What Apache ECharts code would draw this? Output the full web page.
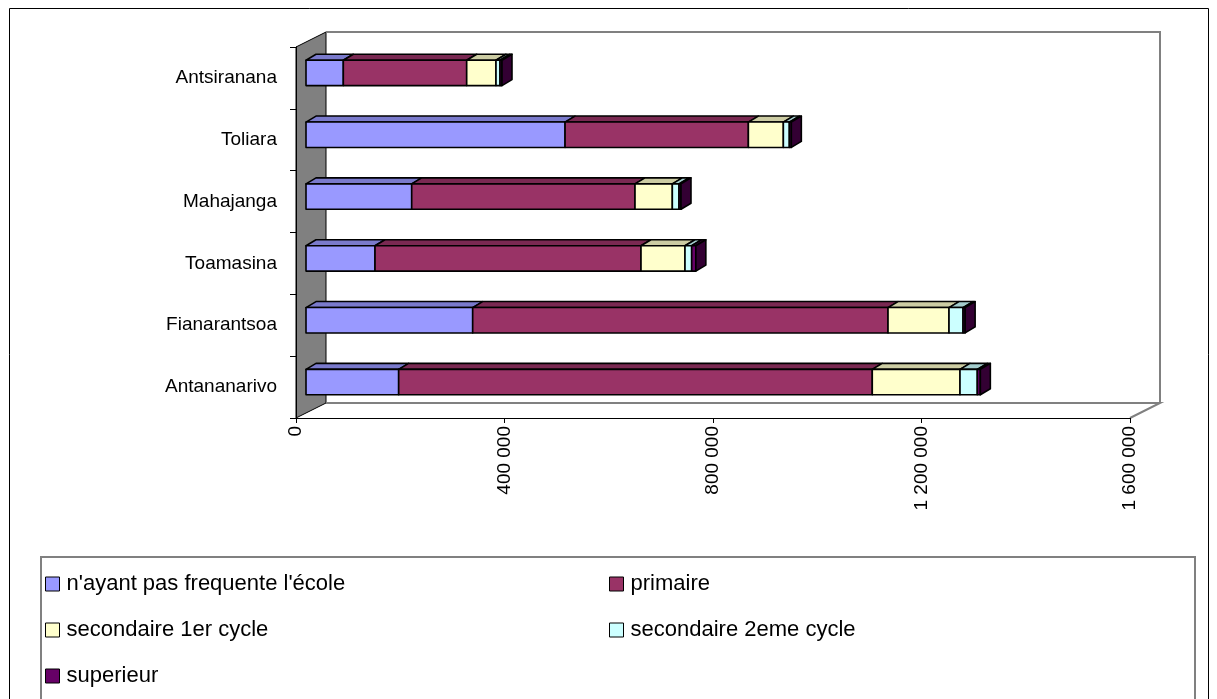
<!DOCTYPE html>
<html>
<head>
<meta charset="utf-8">
<title>Niveau d'instruction par province</title>
<script src="https://cdn.jsdelivr.net/npm/echarts@6/dist/echarts.min.js"></script>
<style>
  html, body { margin: 0; padding: 0; background: #fff; }
  #chart { width: 1217px; height: 699px; }
</style>
</head>
<body>
<div id="chart"></div>
<script>
// provinces, bottom to top
var provinces = ['Antananarivo', 'Fianarantsoa', 'Toamasina', 'Mahajanga', 'Toliara', 'Antsiranana'];

var seriesNames = [
  "n'ayant pas frequente l'école",
  'primaire',
  'secondaire 1er cycle',
  'secondaire 2eme cycle',
  'superieur'
];

var nonScolarise = [177800, 319800, 132400, 202800, 497000, 71600];
var primaire     = [908600, 796800, 510300, 428400, 351700, 236700];
var secondaire1  = [168300, 117000, 84400, 71600, 67100, 56200];
var secondaire2  = [33200, 26900, 12800, 12800, 11500, 7700];
var superieur    = [5800, 4000, 8000, 3800, 3800, 3800];

var xTicks = [0, 400000, 800000, 1200000, 1600000];

var allSeries = [nonScolarise, primaire, secondaire1, secondaire2, superieur];

// front colour / top-face colour
var colors = ['#9999FF', '#993366', '#FFFFCC', '#CCFFFF', '#660066'];
var topColors = ['#7A7ACC', '#7A2952', '#CCCCA3', '#A3CCCC', '#520052'];
var capColor = '#330033';

var FONT = "'Liberation Sans', Arial, sans-serif";

// offset of the bars' front face from the front plane, and bar depth
var OFF_X = 10, OFF_Y = -5;
var DEP_X = 10, DEP_Y = -6;

function fmt(v) {
  return String(v).replace(/\B(?=(\d{3})+(?!\d))/g, ' ');
}

function makeRender(k) {
  var isLast = k === allSeries.length - 1;
  return function(params, api) {
    var idx = api.value(1);
    var start = 0;
    for (var j = 0; j < k; j++) start += allSeries[j][idx];
    var end = start + api.value(0);
    var p0 = api.coord([start, idx]);
    var p1 = api.coord([end, idx]);
    var band = api.size([0, 1])[1];
    var h = band * 0.41;
    var x0 = p0[0] + OFF_X, x1 = p1[0] + OFF_X;
    var yT = p0[1] - h / 2 + OFF_Y, yB = yT + h;
    var st = { stroke: '#000', lineWidth: 1.6, lineJoin: 'round' };
    var children = [
      {
        type: 'polygon',
        shape: { points: [[x0, yT], [x1, yT], [x1 + DEP_X, yT + DEP_Y], [x0 + DEP_X, yT + DEP_Y]] },
        style: Object.assign({ fill: topColors[k] }, st)
      },
      {
        type: 'rect',
        shape: { x: x0, y: yT, width: x1 - x0, height: h },
        style: Object.assign({ fill: colors[k] }, st)
      }
    ];
    if (isLast) {
      children.push({
        type: 'polygon',
        shape: { points: [[x1, yT], [x1 + DEP_X, yT + DEP_Y], [x1 + DEP_X, yB + DEP_Y], [x1, yB]] },
        style: Object.assign({ fill: capColor }, st)
      });
    }
    return { type: 'group', children: children };
  };
}

var series = allSeries.map(function(arr, k) {
  return {
    name: seriesNames[k],
    type: 'custom',
    coordinateSystem: 'cartesian2d',
    encode: { x: 0, y: 1 },
    itemStyle: { color: colors[k], borderColor: '#000', borderWidth: 1 },
    renderItem: makeRender(k),
    data: arr.map(function(v, i) { return [v, i]; }),
    z: 5
  };
});

function legendAt(name, left, top) {
  return {
    data: [name],
    left: left,
    top: top,
    padding: 0,
    icon: 'rect',
    itemWidth: 14,
    itemHeight: 14,
    itemGap: 8,
    selectedMode: false,
    itemStyle: { borderColor: '#000', borderWidth: 1 },
    textStyle: { fontFamily: FONT, fontSize: 22, color: '#000', padding: [0, 0, 0, 2] }
  };
}

var chart = echarts.init(document.getElementById('chart'));

chart.setOption({
  animation: false,
  backgroundColor: '#fff',
  grid: { left: 296, top: 47, width: 834, height: 371 },
  xAxis: {
    type: 'value',
    min: 0,
    max: xTicks[xTicks.length - 1],
    interval: xTicks[1] - xTicks[0],
    axisLine: { show: true, lineStyle: { color: '#000', width: 1 } },
    axisTick: { show: true, length: 5, lineStyle: { color: '#000' } },
    splitLine: { show: false },
    axisLabel: {
      rotate: 90,
      margin: 8,
      fontFamily: FONT,
      fontSize: 19,
      color: '#000',
      formatter: fmt
    }
  },
  yAxis: {
    type: 'category',
    data: provinces,
    axisLine: { show: true, lineStyle: { color: '#000', width: 1 } },
    axisTick: { show: true, length: 6, lineStyle: { color: '#000' } },
    axisLabel: { margin: 19, fontFamily: FONT, fontSize: 19, color: '#000' },
    splitLine: { show: false }
  },
  legend: [
    legendAt(seriesNames[0], 45, 573),
    legendAt(seriesNames[1], 609, 573),
    legendAt(seriesNames[2], 45, 619),
    legendAt(seriesNames[3], 609, 619),
    legendAt(seriesNames[4], 45, 665)
  ],
  graphic: [
    // outer frame
    { type: 'rect', z: -10, shape: { x: 9.5, y: 8.5, width: 1199, height: 700 },
      style: { fill: null, stroke: '#000', lineWidth: 1 } },
    // left side wall
    { type: 'polygon', z: -5, shape: { points: [[296, 47], [326, 32], [326, 403], [296, 418]] },
      style: { fill: '#808080', stroke: '#000', lineWidth: 1 } },
    // back wall outline
    { type: 'polyline', z: -5, shape: { points: [[326, 32], [1160, 32], [1160, 403]] },
      style: { fill: null, stroke: '#808080', lineWidth: 2 } },
    // floor
    { type: 'polyline', z: -5, shape: { points: [[326, 403], [1160, 403], [1130, 418]] },
      style: { fill: null, stroke: '#808080', lineWidth: 2 } },
    // legend box
    { type: 'rect', z: -5, shape: { x: 41, y: 557, width: 1154, height: 160 },
      style: { fill: null, stroke: '#808080', lineWidth: 2 } }
  ],
  series: series
});

window.addEventListener('resize', function() { chart.resize(); });
</script>
</body>
</html>
